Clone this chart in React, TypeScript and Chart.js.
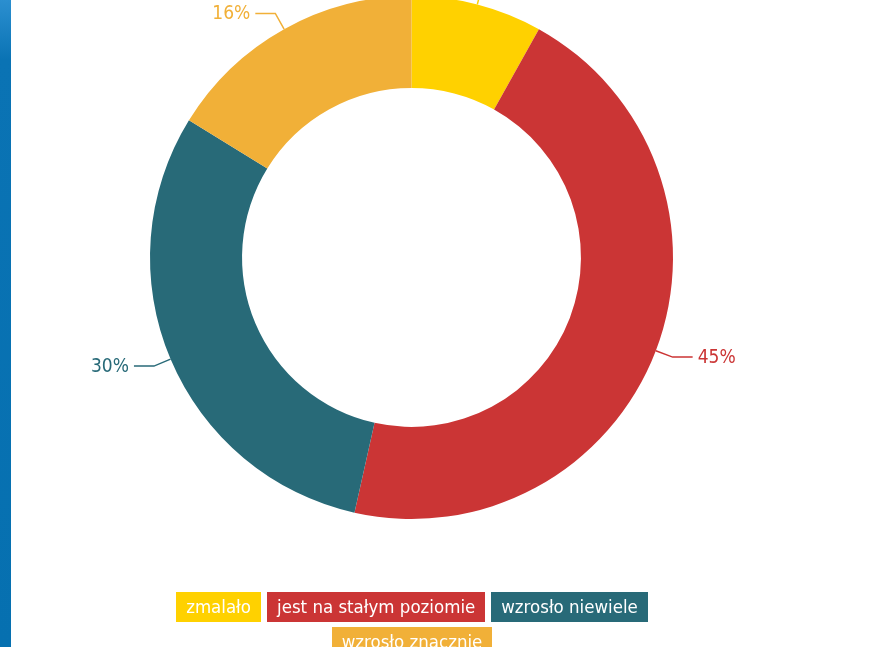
import React, { useEffect, useRef } from "react";
import { Chart, registerables } from "chart.js";

Chart.register(...registerables);

const categories = ["zmalało", "jest na stałym poziomie", "wzrosło niewiele", "wzrosło znacznie"];
const values = [8.1, 45.4, 30.3, 16.2];
const colors = ["#FFD100", "#CB3535", "#286A78", "#F1B038"];

const FONT = "'DejaVu Sans Condensed', 'Liberation Sans Narrow', sans-serif";

const labelPlugin = {
  id: "outerLabels",
  afterDatasetsDraw(chart: any) {
    const ctx = chart.ctx;
    const meta = chart.getDatasetMeta(0);
    const total = values.reduce((a, b) => a + b, 0);
    meta.data.forEach((arc: any, i: number) => {
      const { x, y, startAngle, endAngle, outerRadius } = arc.getProps(
        ["x", "y", "startAngle", "endAngle", "outerRadius"],
        true
      );
      const mid = (startAngle + endAngle) / 2;
      const c = Math.cos(mid);
      const s = Math.sin(mid);
      const x0 = x + c * outerRadius;
      const y0 = y + s * outerRadius;
      const x1 = x + c * (outerRadius + 18);
      const y1 = y + s * (outerRadius + 18);
      const right = c >= 0;
      const x2 = x1 + (right ? 20 : -20);
      ctx.save();
      ctx.strokeStyle = colors[i];
      ctx.lineWidth = 1.5;
      ctx.beginPath();
      ctx.moveTo(x0, y0);
      ctx.lineTo(x1, y1);
      ctx.lineTo(x2, y1);
      ctx.stroke();
      ctx.fillStyle = colors[i];
      ctx.font = "19px " + FONT;
      ctx.textAlign = right ? "left" : "right";
      ctx.textBaseline = "middle";
      const pct = Math.round((values[i] / total) * 100) + "%";
      ctx.fillText(pct, x2 + (right ? 5 : -5), y1 + 1);
      ctx.restore();
    });
  },
};

export default function App() {
  const ref = useRef<HTMLCanvasElement>(null);
  useEffect(() => {
    if (!ref.current) return;
    const chart = new Chart(ref.current, {
      type: "doughnut",
      data: {
        labels: categories,
        datasets: [
          {
            data: values,
            backgroundColor: colors,
            borderWidth: 0,
            hoverOffset: 0,
            offset: 0,
          },
        ],
      },
      options: {
        responsive: false,
        animation: false,
        events: [],
        cutout: "64.8%",
        layout: { padding: { left: 150, right: 211, top: 0, bottom: 128 } },
        plugins: { legend: { display: false }, tooltip: { enabled: false } },
      },
      plugins: [labelPlugin],
    });
    return () => chart.destroy();
  }, []);

  return (
    <div style={{ position: "fixed", left: 0, top: 0, width: 884, height: 647, overflow: "hidden", background: "#fff" }}>
      <canvas ref={ref} width={884} height={651} style={{ position: "absolute", left: 0, top: -4, width: 884, height: 651 }} />
      <div
        style={{
          position: "absolute",
          left: 0,
          top: 0,
          width: 11,
          height: 647,
          background: "linear-gradient(#2b8fd0 0px, #0a73b4 60px, #0670b0 100%)",
        }}
      />
      <div
        style={{
          position: "absolute",
          left: 162,
          top: 592,
          width: 500,
          display: "flex",
          flexWrap: "wrap",
          justifyContent: "center",
          columnGap: 6,
          rowGap: 5,
          fontFamily: FONT,
        }}
      >
        {categories.map((c, i) => (
          <div
            key={c}
            style={{
              background: colors[i],
              color: "#fff",
              height: 30,
              lineHeight: "30px",
              padding: "0 10px",
              fontSize: 18.5,
              whiteSpace: "nowrap",
            }}
          >
            {c}
          </div>
        ))}
      </div>
    </div>
  );
}
